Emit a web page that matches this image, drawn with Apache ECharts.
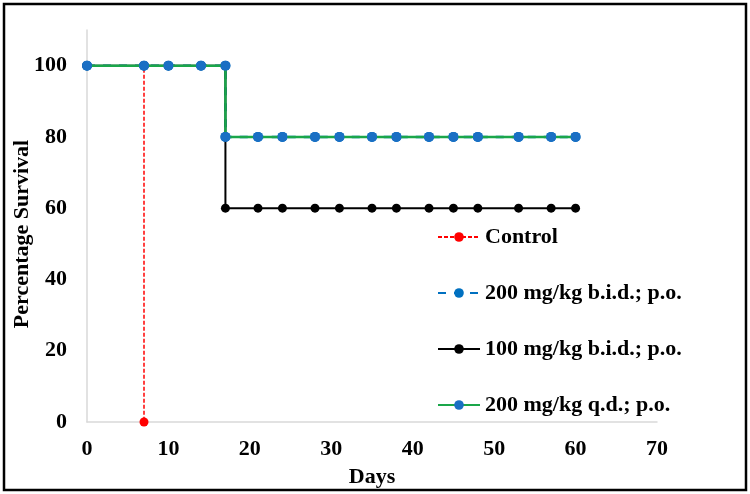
<!DOCTYPE html>
<html>
<head>
<meta charset="utf-8">
<script src="https://cdn.jsdelivr.net/npm/echarts@6/dist/echarts.min.js"></script>
<style>
html,body{margin:0;padding:0;background:#fff;}
#chart{width:750px;height:494px;}
</style>
</head>
<body>
<div id="chart"></div>
<script>
// ---- data ----
var seriesNames = ['Control', '200 mg/kg b.i.d.; p.o.', '100 mg/kg b.i.d.; p.o.', '200 mg/kg q.d.; p.o.'];
var controlDays = [0, 7, 7];
var controlSurvival = [100, 100, 0];
var treatDays = [0, 7, 10, 14, 17, 17, 21, 24, 28, 31, 35, 38, 42, 45, 48, 53, 57, 60];
var bid200Survival = [100, 100, 100, 100, 100, 80, 80, 80, 80, 80, 80, 80, 80, 80, 80, 80, 80, 80];
var bid100Survival = [100, 100, 100, 100, 100, 60, 60, 60, 60, 60, 60, 60, 60, 60, 60, 60, 60, 60];
var qd200Survival  = [100, 100, 100, 100, 100, 80, 80, 80, 80, 80, 80, 80, 80, 80, 80, 80, 80, 80];
var xTicks = [0, 10, 20, 30, 40, 50, 60, 70];
var yTicks = [0, 20, 40, 60, 80, 100];

function pairs(xs, ys) { return xs.map(function (x, i) { return [x, ys[i]]; }); }

var font = 'Liberation Serif';
var chart = echarts.init(document.getElementById('chart'));
chart.setOption({
  animation: false,
  backgroundColor: '#fff',
  graphic: [{
    type: 'rect', silent: true,
    shape: { x: 4, y: 4, width: 742, height: 486 },
    style: { fill: 'none', stroke: '#000', lineWidth: 2.5 }
  }],
  grid: { left: 87, right: 93, top: 30, bottom: 72, outerBoundsMode: 'none', containLabel: false },
  legend: {
    orient: 'vertical', left: 437, top: 226, padding: 0,
    itemWidth: 42, itemHeight: 12, itemGap: 34,
    data: seriesNames,
    textStyle: { fontFamily: font, fontWeight: 'bold', fontSize: 22, color: '#000', lineHeight: 22 }
  },
  xAxis: {
    type: 'value', min: 0, max: 70, interval: 10,
    name: 'Days', nameLocation: 'middle', nameGap: 44, nameMoveOverlap: false,
    nameTextStyle: { fontFamily: font, fontWeight: 'bold', fontSize: 22, color: '#000' },
    axisLine: { show: true, lineStyle: { color: '#d9d9d9', width: 1.5 } },
    axisTick: { show: false },
    splitLine: { show: false },
    axisLabel: {
      margin: 16, fontFamily: font, fontWeight: 'bold', fontSize: 22, color: '#000',
      formatter: function (v) { return xTicks.indexOf(v) >= 0 ? String(v) : ''; }
    }
  },
  yAxis: {
    type: 'value', min: 0, max: 110, interval: 20,
    name: 'Percentage Survival', nameLocation: 'middle', nameGap: 54, nameMoveOverlap: false,
    nameTextStyle: { fontFamily: font, fontWeight: 'bold', fontSize: 22, color: '#000', padding: [0, 16, 0, 0] },
    axisLine: { show: true, lineStyle: { color: '#d9d9d9', width: 1.5 } },
    axisTick: { show: false },
    splitLine: { show: false },
    axisLabel: {
      margin: 20, fontFamily: font, fontWeight: 'bold', fontSize: 22, color: '#000',
      formatter: function (v) { return yTicks.indexOf(v) >= 0 ? String(v) : ''; }
    }
  },
  series: [
    {
      name: seriesNames[0], type: 'line', data: pairs(controlDays, controlSurvival),
      symbol: 'circle', symbolSize: 9, showAllSymbol: true,
      lineStyle: { color: '#ff0000', width: 1.5, type: [4, 2] },
      itemStyle: { color: '#ff0000' }, z: 2
    },
    {
      name: seriesNames[1], type: 'line', data: pairs(treatDays, bid200Survival),
      symbol: 'circle', symbolSize: 10, showAllSymbol: true,
      lineStyle: { color: '#0070c0', width: 2.5, type: [8, 8] },
      itemStyle: { color: '#0070c0' }, z: 3
    },
    {
      name: seriesNames[2], type: 'line', data: pairs(treatDays, bid100Survival),
      symbol: 'circle', symbolSize: 9, showAllSymbol: true,
      lineStyle: { color: '#000000', width: 2 },
      itemStyle: { color: '#000000' }, z: 4
    },
    {
      name: seriesNames[3], type: 'line', data: pairs(treatDays, qd200Survival),
      symbol: 'circle', symbolSize: 10, showAllSymbol: true,
      lineStyle: { color: '#1aa64a', width: 2.5 },
      itemStyle: { color: '#1a6fc4' }, z: 5
    }
  ]
});
</script>
</body>
</html>
